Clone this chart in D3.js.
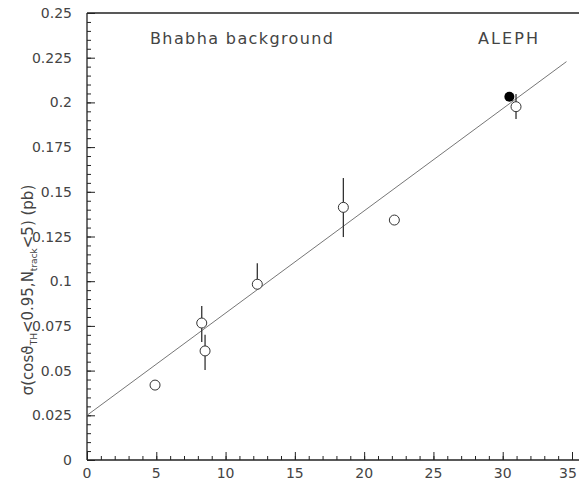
<!DOCTYPE html>
<html><head><meta charset="utf-8">
<script src="https://cdn.jsdelivr.net/npm/d3@7"></script>
<style>body{margin:0;background:#fff}svg{display:block}text{font-family:"DejaVu Sans","Liberation Sans",sans-serif}</style>
</head><body><svg id="c" width="579" height="481"></svg>
<script>
// Data
const openX   = [4.91, 8.28, 8.52, 12.29, 18.50, 22.18, 30.96];
const openY   = [0.0419, 0.0766, 0.0610, 0.0983, 0.1413, 0.1342, 0.1976];
const errLo   = [null, 0.0660, 0.0503, null, 0.1247, null, 0.1907];
const errHi   = [null, 0.0861, 0.0700, 0.1100, 0.1577, null, 0.2047];
const filledX = [30.48];
const filledY = [0.2032];
const fitX = [0, 34.6];
const fitY = [0.025, 0.2228];
const xTicks = [0, 5, 10, 15, 20, 25, 30, 35];
const yTicks = [0, 0.025, 0.05, 0.075, 0.1, 0.125, 0.15, 0.175, 0.2, 0.225, 0.25];
const yTickLabels = ["0","0.025","0.05","0.075","0.1","0.125","0.15","0.175","0.2","0.225","0.25"];

const svg = d3.select("#c");
const x = d3.scaleLinear().domain([0, 35]).range([87, 572]);
const y = d3.scaleLinear().domain([0, 0.25]).range([460, 13]);
const ink = "#222", txt = "#444";

// frame (top, left, bottom; no right)
svg.append("line").attr("x1",87).attr("x2",579).attr("y1",y(0.25)).attr("y2",y(0.25)).attr("stroke",ink).attr("stroke-width",1.3);
svg.append("line").attr("x1",87).attr("x2",579).attr("y1",y(0)).attr("y2",y(0)).attr("stroke",ink).attr("stroke-width",1.3);
svg.append("line").attr("x1",x(0)).attr("x2",x(0)).attr("y1",y(0)).attr("y2",y(0.25)).attr("stroke",ink).attr("stroke-width",1.3);

// y ticks (inward)
const yAxis = d3.axisRight(y).tickValues(yTicks).tickSize(8).tickFormat("");
const gy = svg.append("g").attr("transform",`translate(${x(0)},0)`).call(yAxis);
gy.select(".domain").remove();
gy.selectAll("line").attr("stroke",ink);
const yMinor = d3.axisRight(y).tickValues(d3.range(0,0.2501,0.005)).tickSize(4).tickFormat("");
const gym = svg.append("g").attr("transform",`translate(${x(0)},0)`).call(yMinor);
gym.select(".domain").remove();
gym.selectAll("line").attr("stroke",ink);
// y labels
svg.append("g").selectAll("text").data(yTicks).join("text")
  .attr("x",72).attr("y",d=>y(d)+5).attr("text-anchor","end")
  .attr("font-size",14).attr("fill",txt).text((d,i)=>yTickLabels[i]);

// x ticks (inward)
const xAxis = d3.axisTop(x).tickValues(xTicks).tickSize(8).tickFormat("");
const gx = svg.append("g").attr("transform",`translate(0,${y(0)})`).call(xAxis);
gx.select(".domain").remove();
gx.selectAll("line").attr("stroke",ink);
const xMinor = d3.axisTop(x).tickValues(d3.range(0,35.01,1)).tickSize(4).tickFormat("");
const gxm = svg.append("g").attr("transform",`translate(0,${y(0)})`).call(xMinor);
gxm.select(".domain").remove();
gxm.selectAll("line").attr("stroke",ink);
svg.append("g").selectAll("text").data(xTicks).join("text")
  .attr("x",d=>Math.min(x(d), 568)).attr("y",478).attr("text-anchor","middle")
  .attr("font-size",14).attr("fill",txt).text(d=>d);

// y title
const yt = svg.append("text").attr("transform","translate(33,290) rotate(-90)")
  .attr("text-anchor","middle").attr("font-size",15).attr("fill",txt);
yt.append("tspan").text("σ(cosϑ");
yt.append("tspan").attr("font-size",9).attr("dy",4).text("TH");
yt.append("tspan").attr("dy",-4).text("<0.95,N");
yt.append("tspan").attr("font-size",9).attr("dy",4).text("track");
yt.append("tspan").attr("dy",-4).text("<5) (pb)");

// annotations
svg.append("text").attr("x",150).attr("y",44).attr("font-size",16).attr("fill",txt)
  .attr("textLength",183).attr("lengthAdjust","spacing").text("Bhabha background");
svg.append("text").attr("x",478).attr("y",44).attr("font-size",16).attr("fill",txt)
  .attr("textLength",60).attr("lengthAdjust","spacing").text("ALEPH");

// fit line
svg.append("path").datum(fitX.map((d,i)=>[d,fitY[i]]))
  .attr("d", d3.line().x(d=>x(d[0])).y(d=>y(d[1])))
  .attr("stroke","#666").attr("stroke-width",0.9).attr("fill","none");

// error bars
const pts = openX.map((d,i)=>({x:d,y:openY[i],lo:errLo[i],hi:errHi[i]}));
svg.append("g").selectAll("line").data(pts.filter(p=>p.hi!==null)).join("line")
  .attr("x1",p=>x(p.x)).attr("x2",p=>x(p.x))
  .attr("y1",p=>y(p.hi)).attr("y2",p=>y(p.lo!==null?p.lo:p.y))
  .attr("stroke","#333").attr("stroke-width",1.3);

// open circles
svg.append("g").selectAll("circle").data(pts).join("circle")
  .attr("cx",p=>x(p.x)).attr("cy",p=>y(p.y)).attr("r",5)
  .attr("fill","#fff").attr("stroke","#333").attr("stroke-width",1);

// filled circle
svg.append("g").selectAll("circle").data(filledX.map((d,i)=>[d,filledY[i]])).join("circle")
  .attr("cx",d=>x(d[0])).attr("cy",d=>y(d[1])).attr("r",5).attr("fill","#000");
</script></body></html>
